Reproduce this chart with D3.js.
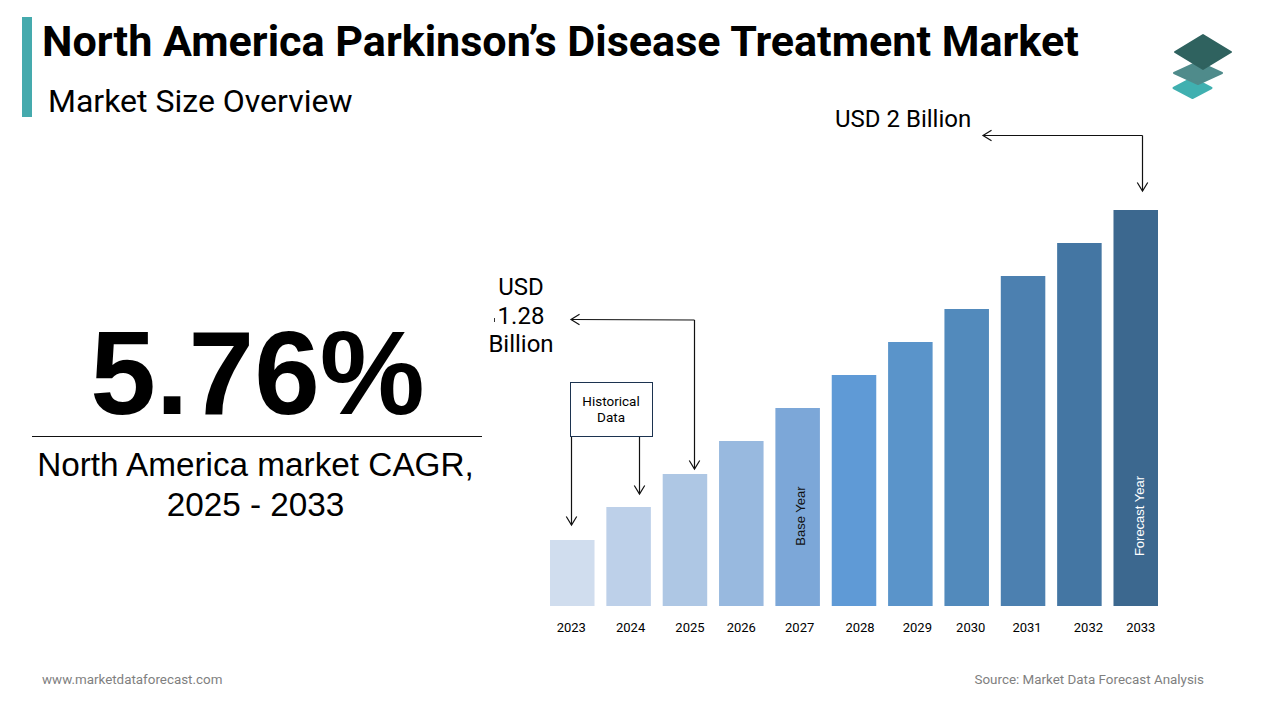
<!DOCTYPE html>
<html>
<head>
<meta charset="utf-8">
<script src="https://cdn.jsdelivr.net/npm/d3@7"></script>
<style>
html,body{margin:0;padding:0;background:#fff}
svg{display:block}
text{font-family:Roboto,sans-serif;fill:#000}
</style>
</head>
<body>
<svg id="chart" width="1280" height="720"></svg>
<script>
// bars in the picture are illustrative, they grow in equal steps, so values are in steps not USD
var years = ["2023","2024","2025","2026","2027","2028","2029","2030","2031","2032","2033"];
var barSteps = [2,3,4,5,6,7,8,9,10,11,12];
var barColors = ["#d0ddee","#bdd0e9","#aec7e4","#98b9df","#7ca7d8","#5f9ad6","#5a94ca","#528abc","#4c80b0","#4476a3","#3c688f"];
var labelShift = [-1,2,5,0,2,6,7,4,4,9,5];

var svg = d3.select("#chart");
var x = d3.scaleBand().domain(years).range([550,1158]).paddingInner(0.21);
var y = d3.scaleLinear().domain([0,12]).range([606,210]);

// header
svg.append("rect").attr("x",22).attr("y",17).attr("width",10).attr("height",100).attr("fill","#45aaad");
svg.append("text").attr("x",42).attr("y",56).attr("font-size",43.1).attr("font-weight",700).text("North America Parkinson’s Disease Treatment Market");
svg.append("text").attr("x",48).attr("y",112).attr("font-size",32).text("Market Size Overview");

// logo
function diamond(cx,cy,w,h,c){
  svg.append("path").attr("d",d3.line()([[cx-w,cy],[cx,cy-h],[cx+w,cy],[cx,cy+h]])+"Z")
    .attr("fill",c).attr("stroke",c).attr("stroke-width",2).attr("stroke-linejoin","round");
}
diamond(1192.5,88,19,10,"#40b0b0");
diamond(1198,73,24,11,"#4f8b8b");
diamond(1203,52,28,17,"#2f625f");

// left big number
svg.append("text").attr("x",257.5).attr("y",414).attr("text-anchor","middle").attr("font-size",118).attr("font-weight",700).style("font-family","Liberation Sans").text("5.76%");
svg.append("line").attr("x1",32).attr("x2",482).attr("y1",436.5).attr("y2",436.5).attr("stroke","#111");
svg.append("text").attr("x",255.5).attr("y",476).attr("text-anchor","middle").attr("font-size",33.3).style("font-family","Liberation Sans").text("North America market CAGR,");
svg.append("text").attr("x",255.5).attr("y",516).attr("text-anchor","middle").attr("font-size",33.3).style("font-family","Liberation Sans").text("2025 - 2033");

// bars
svg.selectAll("rect.bar").data(years).enter().append("rect").attr("class","bar")
  .attr("x",function(d){return x(d);})
  .attr("y",function(d,i){return y(barSteps[i]);})
  .attr("width",x.bandwidth())
  .attr("height",function(d,i){return y(0)-y(barSteps[i]);})
  .attr("fill",function(d,i){return barColors[i];});

// year labels sit a bit off the bar centres in the original
var axis = svg.append("g").attr("transform","translate(0,606)")
  .call(d3.axisBottom(x).tickSize(0).tickPadding(17));
axis.select(".domain").remove();
axis.selectAll("text").attr("font-size",13).style("font-family","Roboto, sans-serif").attr("fill","#111")
  .attr("dx",function(d,i){return labelShift[i];});

// rotated labels inside bars
function barLabel(year,cy,txt,c,dx){
  var cx = x(year)+x.bandwidth()/2+dx;
  svg.append("text").attr("transform","translate("+cx+","+cy+") rotate(-90)")
    .attr("text-anchor","middle").attr("font-size",13).style("font-family","Liberation Sans")
    .style("fill",c).text(txt);
}
barLabel("2027",516,"Base Year","#111",7);
barLabel("2033",516,"Forecast Year","#fff",8.5);

// arrows
function arrow(pts){
  svg.append("path").attr("d",d3.line()(pts)).attr("fill","none").attr("stroke","#111").attr("stroke-width",1.2);
  var a = pts[pts.length-2], b = pts[pts.length-1];
  var ang = Math.atan2(b[1]-a[1],b[0]-a[0]), s = 10;
  var head = [-0.55,0.55].map(function(o){return [b[0]-s*Math.cos(ang+o),b[1]-s*Math.sin(ang+o)];});
  svg.append("path").attr("d",d3.line()([head[0],b,head[1]])).attr("fill","none").attr("stroke","#111").attr("stroke-width",1.2);
}
arrow([[1142.5,135.5],[983,135.5]]);
arrow([[1142.5,135.5],[1142.5,191]]);
arrow([[694.5,320],[571,319.5]]);
arrow([[694.5,320],[694.5,469]]);
arrow([[571.5,437],[571.5,525]]);
arrow([[639.5,437],[639.5,494]]);

// callouts
svg.append("text").attr("x",835).attr("y",127).attr("font-size",24).text("USD 2 Billion");
[["USD",295],["1.28",324],["Billion",352]].forEach(function(l){
  svg.append("text").attr("x",521).attr("y",l[1]).attr("text-anchor","middle").attr("font-size",24).text(l[0]);
});
// clipped leftover of a character in front of 1.28 in the original
svg.append("rect").attr("x",494).attr("y",318).attr("width",1).attr("height",4).attr("fill","#333");
svg.append("rect").attr("x",570.5).attr("y",382.5).attr("width",82).attr("height",54).attr("fill","#fff").attr("stroke","#1c3350").attr("stroke-width",1);
svg.append("text").attr("x",611).attr("y",406).attr("text-anchor","middle").attr("font-size",13.5).text("Historical");
svg.append("text").attr("x",611).attr("y",422).attr("text-anchor","middle").attr("font-size",13.5).text("Data");

// footer
svg.append("text").attr("x",42).attr("y",684).attr("font-size",13.4).style("fill","#7f7f7f").text("www.marketdataforecast.com");
svg.append("text").attr("x",1204).attr("y",684).attr("text-anchor","end").attr("font-size",13.4).style("fill","#7f7f7f").text("Source: Market Data Forecast Analysis");
</script>
</body>
</html>
